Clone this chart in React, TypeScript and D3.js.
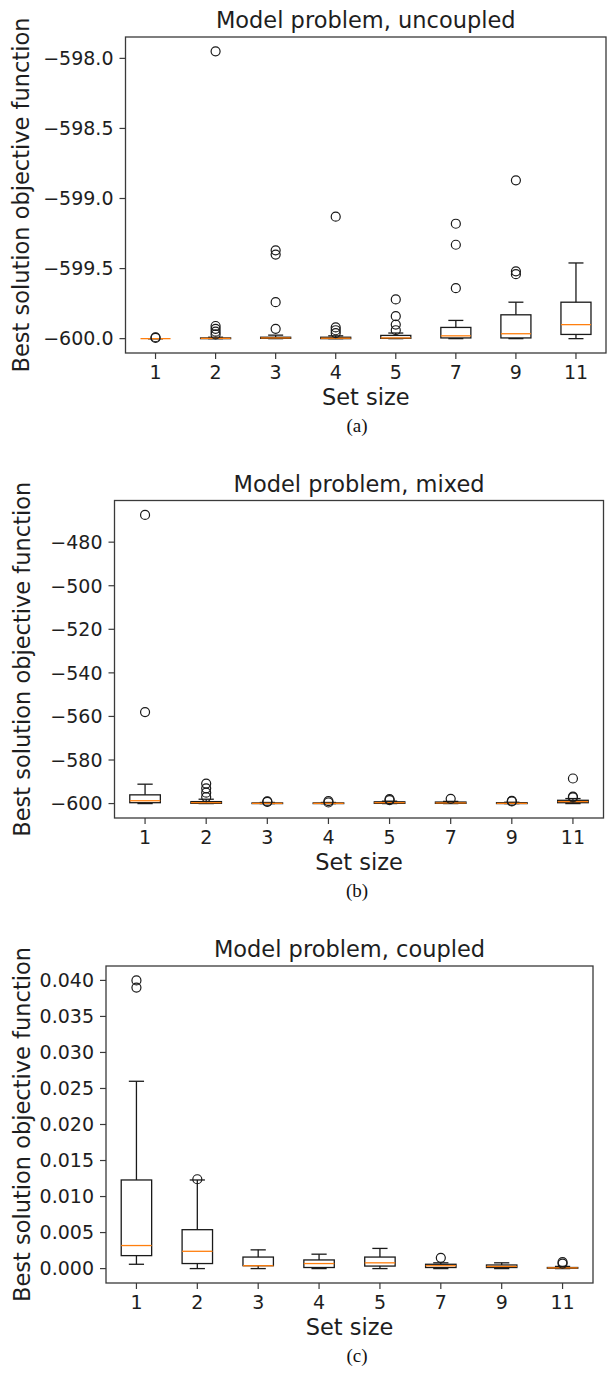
import React from 'react';
import * as d3 from 'd3';

// ---------- shared categories ----------
const setSizes = ['1', '2', '3', '4', '5', '7', '9', '11'];

// ---------- (a) Model problem, uncoupled ----------
const aWhiskerLow = [-600, -600, -600, -600, -600, -600, -600, -600];
const aQ1 = [-600, -600, -599.998, -600, -599.998, -599.995, -599.995, -599.97];
const aMedian = [-600, -599.998, -599.995, -599.997, -599.995, -599.98, -599.965, -599.9];
const aQ3 = [-600, -599.995, -599.99, -599.99, -599.977, -599.92, -599.83, -599.74];
const aWhiskerHigh = [-600, -599.99, -599.975, -599.98, -599.96, -599.87, -599.74, -599.46];
const aFliers = [
  [-599.99, -599.995],
  [-597.95, -599.91, -599.93, -599.95, -599.97],
  [-599.37, -599.4, -599.74, -599.93],
  [-599.13, -599.92, -599.94, -599.96],
  [-599.72, -599.84, -599.9, -599.94],
  [-599.18, -599.33, -599.64],
  [-598.87, -599.52, -599.54],
  [],
];
const aTicks = [-600, -599.5, -599, -598.5, -598];

// ---------- (b) Model problem, mixed ----------
const bWhiskerLow = [-600, -600, -600, -600, -600, -600, -600, -600];
const bQ1 = [-599.6, -599.9, -600, -600, -599.9, -599.9, -600, -599.6];
const bMedian = [-598.7, -599.6, -599.9, -599.9, -599.6, -599.7, -599.9, -599.1];
const bQ3 = [-596.0, -599.1, -599.7, -599.7, -599.2, -599.3, -599.6, -598.5];
const bWhiskerHigh = [-591.1, -598.0, -599.5, -599.5, -598.9, -599.0, -599.4, -597.7];
const bFliers = [
  [-467.5, -558.0],
  [-590.8, -593.0, -595.0, -597.0],
  [-599.0, -599.2],
  [-598.9, -599.5],
  [-598.0, -598.4],
  [-597.8],
  [-598.8, -599.0],
  [-588.5, -596.8, -597.2],
];
const bTicks = [-600, -580, -560, -540, -520, -500, -480];

// ---------- (c) Model problem, coupled ----------
const cWhiskerLow = [0.0006, 0.0, 0.0, 0.0, 0.0, 0.0, 0.0, 0.0];
const cQ1 = [0.0018, 0.0007, 0.0004, 0.00015, 0.00035, 0.00015, 0.00015, 0.00005];
const cMedian = [0.0032, 0.0024, 0.0004, 0.0007, 0.0008, 0.0004, 0.0003, 0.0001];
const cQ3 = [0.0123, 0.0054, 0.0016, 0.0012, 0.0016, 0.0006, 0.0005, 0.00015];
const cWhiskerHigh = [0.026, 0.0123, 0.0026, 0.002, 0.0028, 0.0008, 0.0008, 0.0003];
const cFliers = [
  [0.04, 0.039],
  [0.0124],
  [],
  [],
  [],
  [0.0015],
  [],
  [0.0009, 0.0007],
];
const cTicks = [0, 0.005, 0.01, 0.015, 0.02, 0.025, 0.03, 0.035, 0.04];

const FONT = 'DejaVu Sans, Verdana, sans-serif';
const TEXT = '#1e1e1e';
const minus = (s: string) => s.replace('-', '\u2212');

type PanelDef = {
  title: string;
  caption: string;
  lo: number[];
  q1: number[];
  med: number[];
  q3: number[];
  hi: number[];
  fliers: number[][];
  ticks: number[];
  fmt: (v: number) => string;
  left: number;
  right: number;
  top: number;
  bottom: number;
  ylabelX: number;
};

const panels: PanelDef[] = [
  {
    title: 'Model problem, uncoupled', caption: '(a)',
    lo: aWhiskerLow, q1: aQ1, med: aMedian, q3: aQ3, hi: aWhiskerHigh, fliers: aFliers,
    ticks: aTicks, fmt: (v) => minus(d3.format('.1f')(v)),
    left: 125.5, right: 606, top: 37, bottom: 353, ylabelX: 21,
  },
  {
    title: 'Model problem, mixed', caption: '(b)',
    lo: bWhiskerLow, q1: bQ1, med: bMedian, q3: bQ3, hi: bWhiskerHigh, fliers: bFliers,
    ticks: bTicks, fmt: (v) => minus(d3.format('d')(v)),
    left: 114.5, right: 603.5, top: 500.5, bottom: 818, ylabelX: 22,
  },
  {
    title: 'Model problem, coupled', caption: '(c)',
    lo: cWhiskerLow, q1: cQ1, med: cMedian, q3: cQ3, hi: cWhiskerHigh, fliers: cFliers,
    ticks: cTicks, fmt: (v) => d3.format('.3f')(v),
    left: 106, right: 593, top: 966, bottom: 1283, ylabelX: 22,
  },
];

function Panel({ p }: { p: PanelDef }) {
  const all = [...p.lo, ...p.hi, ...p.fliers.flat()];
  const mn = d3.min(all) as number;
  const mx = d3.max(all) as number;
  const pad = (mx - mn) * 0.05;
  const y = d3.scaleLinear().domain([mn - pad, mx + pad]).range([p.bottom, p.top]);
  const x = d3.scalePoint<string>().domain(setSizes).range([p.left, p.right]).padding(0.5);
  const step = x.step();
  const bw = step * 0.5;
  const cw = step * 0.25;
  const cx = (p.left + p.right) / 2;
  const stroke = '#1a1a1a';
  return (
    <g>
      <text x={cx} y={p.top - 9} textAnchor="middle" fontFamily={FONT} fontSize={22.5} fill={TEXT}>
        {p.title}
      </text>
      {setSizes.map((s, i) => {
        const xc = x(s) as number;
        return (
          <g key={s}>
            <line x1={xc} x2={xc} y1={y(p.q1[i])} y2={y(p.lo[i])} stroke={stroke} strokeWidth={1.3} />
            <line x1={xc} x2={xc} y1={y(p.q3[i])} y2={y(p.hi[i])} stroke={stroke} strokeWidth={1.3} />
            <line x1={xc - cw / 2} x2={xc + cw / 2} y1={y(p.lo[i])} y2={y(p.lo[i])} stroke={stroke} strokeWidth={1.3} />
            <line x1={xc - cw / 2} x2={xc + cw / 2} y1={y(p.hi[i])} y2={y(p.hi[i])} stroke={stroke} strokeWidth={1.3} />
            <rect x={xc - bw / 2} y={y(p.q3[i])} width={bw} height={Math.max(0, y(p.q1[i]) - y(p.q3[i]))}
              fill="none" stroke={stroke} strokeWidth={1.3} />
            <line x1={xc - bw / 2} x2={xc + bw / 2} y1={y(p.med[i])} y2={y(p.med[i])} stroke="#ff7f0e" strokeWidth={1.3} />
            {p.fliers[i].map((f, j) => (
              <circle key={j} cx={xc} cy={y(f)} r={4.5} fill="none" stroke={stroke} strokeWidth={1.2} />
            ))}
          </g>
        );
      })}
      <rect x={p.left} y={p.top} width={p.right - p.left} height={p.bottom - p.top} fill="none" stroke="#3a3a3a" strokeWidth={1.3} />
      {p.ticks.map((t) => (
        <g key={t}>
          <line x1={p.left - 6} x2={p.left} y1={y(t)} y2={y(t)} stroke="#3a3a3a" strokeWidth={1.2} />
          <text x={p.left - 12} y={y(t)} dy="0.36em" textAnchor="end" fontFamily={FONT} fontSize={19} fill={TEXT}>
            {p.fmt(t)}
          </text>
        </g>
      ))}
      {setSizes.map((s) => (
        <g key={s}>
          <line x1={x(s)} x2={x(s)} y1={p.bottom} y2={p.bottom + 6} stroke="#3a3a3a" strokeWidth={1.2} />
          <text x={x(s)} y={p.bottom + 26} textAnchor="middle" fontFamily={FONT} fontSize={19} fill={TEXT}>
            {s}
          </text>
        </g>
      ))}
      <text x={cx} y={p.bottom + 52} textAnchor="middle" fontFamily={FONT} fontSize={22.5} fill={TEXT}>
        Set size
      </text>
      <text transform={`translate(${p.ylabelX},${(p.top + p.bottom) / 2}) rotate(-90)`} dy="0.36em"
        textAnchor="middle" fontFamily={FONT} fontSize={22.5} fill={TEXT}>
        Best solution objective function
      </text>
      <text x={357} y={p.bottom + 79} textAnchor="middle" fontFamily="Liberation Serif, Times New Roman, serif" fontSize={19} fill="#111">
        {p.caption}
      </text>
    </g>
  );
}

export default function App() {
  return (
    <svg width={610} height={1376} viewBox="0 0 610 1376"
      style={{ position: 'absolute', left: 0, top: 0, background: '#fff' }}>
      <rect x={0} y={0} width={610} height={1376} fill="#fff" />
      {panels.map((p) => (
        <Panel key={p.caption} p={p} />
      ))}
    </svg>
  );
}
